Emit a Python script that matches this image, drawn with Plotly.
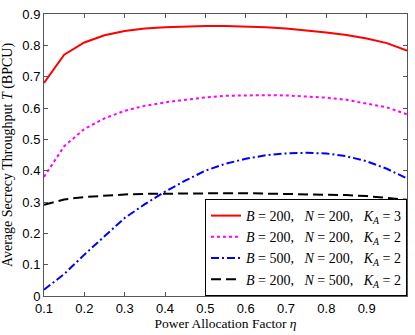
import plotly.graph_objects as go

# power allocation factor eta
eta = [0.1, 0.15, 0.2, 0.25, 0.3, 0.35, 0.4, 0.45, 0.5, 0.55,
       0.6, 0.65, 0.7, 0.75, 0.8, 0.85, 0.9, 0.95, 1.0]

# B=200, N=200, K_A=3
t_b200_n200_k3 = [0.680, 0.770, 0.809, 0.832, 0.846, 0.854, 0.858, 0.861, 0.862, 0.862,
                  0.861, 0.858, 0.854, 0.848, 0.841, 0.833, 0.822, 0.807, 0.783]
# B=200, N=200, K_A=2
t_b200_n200_k2 = [0.380, 0.478, 0.533, 0.567, 0.591, 0.607, 0.618, 0.627, 0.634, 0.639,
                  0.641, 0.641, 0.640, 0.637, 0.633, 0.626, 0.615, 0.602, 0.580]
# B=500, N=200, K_A=2
t_b500_n200_k2 = [0.020, 0.070, 0.132, 0.190, 0.249, 0.293, 0.333, 0.368, 0.400, 0.422,
                  0.438, 0.449, 0.455, 0.457, 0.455, 0.446, 0.430, 0.406, 0.375]
# B=200, N=500, K_A=2
t_b200_n500_k2 = [0.291, 0.308, 0.316, 0.321, 0.324, 0.326, 0.327, 0.327, 0.328, 0.328,
                  0.328, 0.327, 0.327, 0.326, 0.325, 0.322, 0.319, 0.314, 0.307]

x_ticks = [0.1, 0.2, 0.3, 0.4, 0.5, 0.6, 0.7, 0.8, 0.9]
y_ticks = [0, 0.1, 0.2, 0.3, 0.4, 0.5, 0.6, 0.7, 0.8, 0.9]

SERIF = "Liberation Serif, DejaVu Serif, serif"
SANS = "Liberation Sans, Arial, sans-serif"
sp = "&nbsp;"


def label(b, n, k):
    return (f"<i>B</i> = {b},{sp * 3}<i>N</i> = {n},{sp * 3}"
            f"<i>K</i><sub><i>A</i></sub> = {k}")


fig = go.Figure()
fig.add_trace(go.Scatter(x=eta, y=t_b200_n200_k3, mode='lines', name=label(200, 200, 3),
                         line=dict(color='#ff0000', width=2)))
fig.add_trace(go.Scatter(x=eta, y=t_b200_n200_k2, mode='lines', name=label(200, 200, 2),
                         line=dict(color='#ff00ff', width=2, dash='3px,3px')))
fig.add_trace(go.Scatter(x=eta, y=t_b500_n200_k2, mode='lines', name=label(500, 200, 2),
                         line=dict(color='#0000ff', width=2, dash='8px,3px,2px,3px')))
fig.add_trace(go.Scatter(x=eta, y=t_b200_n500_k2, mode='lines', name=label(200, 500, 2),
                         line=dict(color='#000000', width=2, dash='10px,5px')))

axis_style = dict(showline=True, linecolor='#555', linewidth=1, mirror='ticks',
                  ticks='inside', ticklen=4, tickcolor='#555', showgrid=False,
                  zeroline=False, tickfont=dict(family=SANS, size=13, color='black'))

fig.update_xaxes(range=[0.1, 1.0], tickvals=x_ticks,
                 title=dict(text="Power Allocation Factor <i>η</i>",
                            font=dict(family=SERIF, size=13.5, color='black'), standoff=1),
                 **axis_style)
fig.update_yaxes(range=[0, 0.9], tickvals=y_ticks,
                 title=dict(text="Average Secrecy Throughput <i>T</i> (BPCU)",
                            font=dict(family=SERIF, size=14, color='black'), standoff=6),
                 **axis_style)

fig.update_layout(
    width=415, height=335,
    margin=dict(l=44, r=7, t=9, b=39),
    paper_bgcolor='white', plot_bgcolor='white',
    legend=dict(x=1, y=0, xanchor='right', yanchor='bottom',
                bordercolor='black', borderwidth=1, bgcolor='white',
                font=dict(family=SERIF, size=14, color='black'),
                tracegroupgap=0),
    showlegend=True,
)

fig.write_html("out.html", config={'displayModeBar': False},
               post_script="document.body.style.margin='0px';")
